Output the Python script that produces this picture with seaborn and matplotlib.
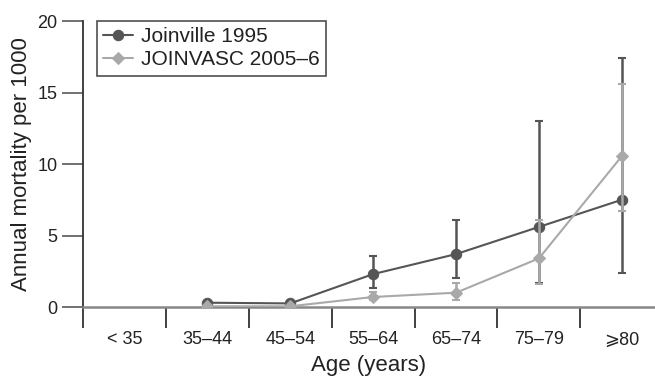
import numpy as np
import pandas as pd
import seaborn as sns
from matplotlib import pyplot as plt

sns.set_style('white')
plt.rcParams['font.family'] = ['Liberation Sans', 'DejaVu Sans']

age_groups = ['< 35', '35–44', '45–54', '55–64', '65–74', '75–79', '⩾80']
joinville = [np.nan, 0.3, 0.25, 2.3, 3.7, 5.6, 7.5]
joinville_lo = [np.nan, np.nan, np.nan, 1.3, 2.05, 1.7, 2.4]
joinville_hi = [np.nan, np.nan, np.nan, 3.55, 6.05, 13.0, 17.4]
joinvasc = [np.nan, 0.05, 0.05, 0.7, 1.0, 3.4, 10.55]
joinvasc_lo = [np.nan, np.nan, np.nan, 0.5, 0.5, 1.6, 6.7]
joinvasc_hi = [np.nan, np.nan, np.nan, 1.05, 1.7, 6.1, 15.6]

DARK = '#555555'
LIGHT = '#a9a9a9'

pos = np.arange(len(age_groups))
series = [
    ('Joinville 1995', joinville, joinville_lo, joinville_hi, DARK, 'o', 7.5),
    ('JOINVASC 2005–6', joinvasc, joinvasc_lo, joinvasc_hi, LIGHT, 'D', 6.5),
]

fig = plt.figure(figsize=(6.55, 3.76), dpi=100)
ax = fig.add_axes([83 / 655, 69 / 376, 572 / 655, 286 / 376])

z = 2
for name, vals, lo, hi, color, marker, ms in series:
    vals, lo, hi = np.array(vals), np.array(lo), np.array(hi)
    ax.errorbar(pos, vals, yerr=[vals - lo, hi - vals], fmt='none',
                ecolor=color, elinewidth=1.8, capsize=2.7, capthick=1.5, zorder=z)
    df = pd.DataFrame({'pos': pos, 'rate': vals}).dropna()
    sns.lineplot(data=df, x='pos', y='rate', color=color, marker=marker,
                 markersize=ms, markeredgecolor=color, linewidth=1.5,
                 label=name, ax=ax, zorder=z + 1)
    z += 2

ax.set_xlim(-0.5, 6.4)
ax.set_ylim(0, 20)
ax.set_yticks([0, 5, 10, 15, 20])
ax.set_xticks(np.arange(-0.5, 6, 1))
ax.set_xticklabels([])
ax.set_xticks(pos, age_groups, minor=True)
ax.tick_params(axis='x', which='major', direction='out', length=15, width=1.3,
               color='#333333', bottom=True)
ax.tick_params(axis='x', which='minor', length=0, pad=17.5, labelsize=13,
               labelcolor='#222222', bottom=True)
ax.tick_params(axis='y', direction='out', length=15, width=1.3, color='#666666',
               pad=3.5, labelsize=13, labelcolor='#222222', left=True)

for s in ['top', 'right']:
    ax.spines[s].set_visible(False)
ax.spines['left'].set_color('#333333')
ax.spines['left'].set_linewidth(1.3)
ax.spines['bottom'].set_color('#888888')
ax.spines['bottom'].set_linewidth(1.8)

ax.set_xlabel('Age (years)', fontsize=16, color='#222222', labelpad=5)
ax.set_ylabel('Annual mortality per 1000', fontsize=16, color='#222222', labelpad=4)

leg = ax.legend(loc='upper left', bbox_to_anchor=(14 / 572, 1.0), fontsize=15,
                frameon=True, fancybox=False, edgecolor='#222222',
                borderpad=0.3, handlelength=1.45, handletextpad=0.35,
                labelspacing=0.2, borderaxespad=0)
leg.get_frame().set_linewidth(1.2)
for t in leg.get_texts():
    t.set_color('#222222')

fig.savefig('out.png', dpi=100)
